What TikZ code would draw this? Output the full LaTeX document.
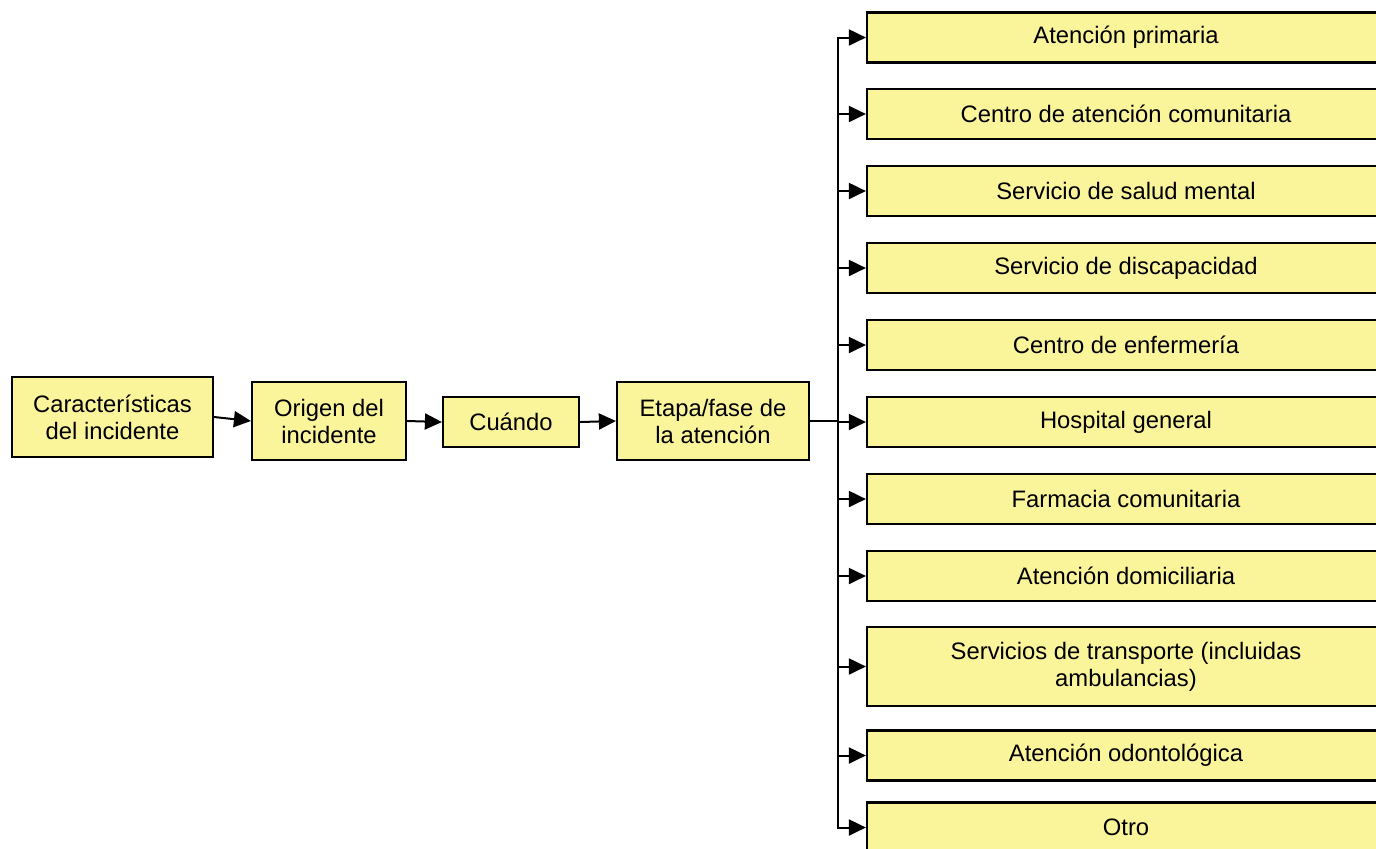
\documentclass[tikz,border=0pt]{standalone}
\usepackage{fontspec}
\setmainfont{Liberation Sans}
\usepackage{tikz}
\usetikzlibrary{arrows.meta, calc}

\definecolor{boxyellow}{RGB}{250,244,155}

\tikzset{
    box/.style={draw=black, fill=boxyellow, line width=1.1pt, inner sep=2pt,
        align=center, font=\fontsize{11.9}{13.5}\selectfont},
    dest/.style={box, minimum width=259pt, minimum height=25pt},
    arr/.style={line width=1pt, -{Triangle[length=8.5pt, width=8pt]}}
}

\begin{document}
\begin{tikzpicture}[x=0.5pt, y=-0.5pt]
            \clip (0,0) rectangle (1376,848);
            \coordinate (C) at (112.5,417);
            \coordinate (O) at (329,421);
            \coordinate (Q) at (511,422);
            \coordinate (E) at (713,421);
            \coordinate (T) at (838,421);
            \node (car) at (C) [box, minimum width=100.5pt, minimum height=40pt] {Características\\del incidente};
            \node (ori) at (O) [box, minimum width=77pt, minimum height=39pt] {Origen del\\incidente};
            \node (cua) at (Q) [box, minimum width=68pt, minimum height=25pt] {Cuándo};
            \node (eta) at (E) [box, minimum width=96pt, minimum height=39pt] {Etapa/fase de\\la atención};
            \node (d1) at (1126,37.5) [dest] {Atención primaria};
            \node (d2) at (1126,114) [dest] {Centro de atención comunitaria};
            \node (d3) at (1126,191) [dest] {Servicio de salud mental};
            \node (d4) at (1126,268) [dest] {Servicio de discapacidad};
            \node (d5) at (1126,345) [dest] {Centro de enfermería};
            \node (d6) at (1126,422) [dest] {Hospital general};
            \node (d7) at (1126,499) [dest] {Farmacia comunitaria};
            \node (d8) at (1126,576) [dest] {Atención domiciliaria};
            \node (d9) at (1126,666.5) [dest, minimum height=39.5pt] {Servicios de transporte (incluidas\\ambulancias)};
            \node (d10) at (1126,755.5) [dest] {Atención odontológica};
            \node (d11) at (1126,827.5) [dest] {Otro};
            \draw[arr] (car.east) -- (ori.west);
            \draw[arr] (ori.east) -- (cua.west);
            \draw[arr] (cua.east) -- (eta.west);
            \draw[line width=1pt] (eta.east) -- (T);
            \foreach \d in {d1,d2,d3,d4,d5,d6,d7,d8,d9,d10,d11}
                \draw[arr] (T) |- (\d.west);
        \end{tikzpicture}
\end{document}
